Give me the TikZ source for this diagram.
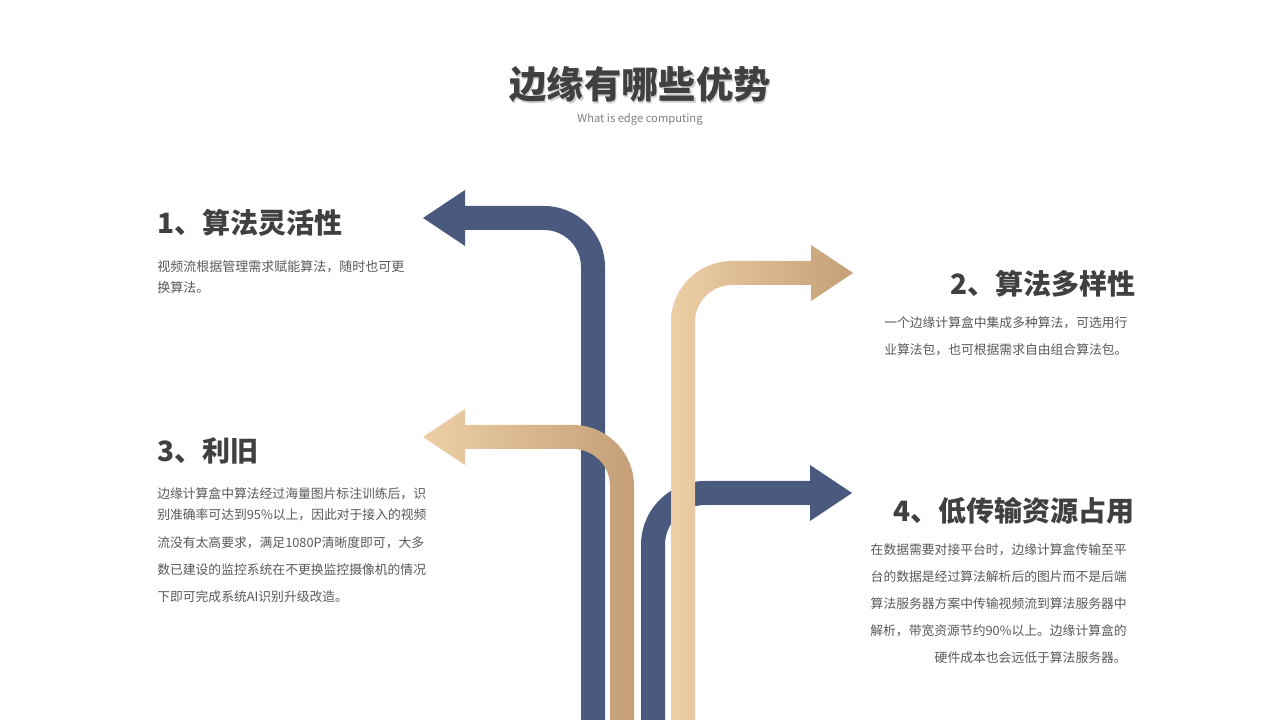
\documentclass[tikz,border=0pt]{standalone}
\usepackage{fontspec}
\setmainfont{Noto Sans CJK SC}
\usetikzlibrary{positioning}
\definecolor{pipeblue}{HTML}{4A5A7E}
\definecolor{tanlight}{HTML}{EDCFA6}
\definecolor{tandark}{HTML}{C49F78}
\definecolor{headgray}{HTML}{404040}
\definecolor{textgray}{HTML}{595959}
\tikzset{
  heading/.style={
    inner sep=0pt, text=headgray,
    font=\fontsize{21}{25}\selectfont\bfseries
  },
  body/.style={
    inner sep=0pt, text=textgray,
    font=\fontsize{9.6}{20.4}\selectfont
  },
  bluepipe/.style={
    fill=pipeblue
  },
  tanpipe/.style={
    left color=tanlight, right color=tandark
  }
}

\begin{document}
\begin{tikzpicture}[x=0.75pt, y=0.75pt]
\useasboundingbox[fill=white] (0,0) rectangle (1280,720);

\fill[bluepipe] (581,0) -- (581,453) arc[start angle=0, end angle=90, radius=37]
  -- (465,490) -- (465,474) -- (423,502) -- (465,530) -- (465,514) -- (544,514)
  arc[start angle=90, end angle=0, radius=61] -- (605,0) -- cycle;
\shade[tanpipe] (610,0) -- (610,234) arc[start angle=0, end angle=90, radius=37]
  -- (465,271) -- (465,255) -- (423,283) -- (465,311) -- (465,295) -- (573,295)
  arc[start angle=90, end angle=0, radius=61] -- (634,0) -- cycle;
\fill[bluepipe] (641,0) -- (641,175) arc[start angle=180, end angle=90, radius=64]
  -- (810,239) -- (810,255) -- (852,227) -- (810,199) -- (810,215) -- (705,215)
  arc[start angle=90, end angle=180, radius=40] -- (665,0) -- cycle;
\shade[tanpipe] (671,0) -- (671,398) arc[start angle=180, end angle=90, radius=61]
  -- (811,459) -- (811,475) -- (853,447) -- (811,419) -- (811,435) -- (732,435)
  arc[start angle=90, end angle=180, radius=37] -- (695,0) -- cycle;

\node[text=black!18, font=\fontsize{28}{34}\selectfont\bfseries] (shadow) at (641.5,633.5) {边缘有哪些优势};
\node[text=headgray, font=\fontsize{28}{34}\selectfont\bfseries] (title) at (640,635) {边缘有哪些优势};
\node[text=gray, font=\fontsize{8.4}{10}\selectfont, below=1pt of title] (subtitle) {What is edge computing};

\node[heading, anchor=west] (head1) at (157,497) {1、算法灵活性};
\node[body, anchor=north west, align=left, font=\fontsize{9.75}{15.75}\selectfont] (body1) at (157,460)
  {视频流根据管理需求赋能算法，随时也可更\\换算法。};

\node[heading, anchor=east] (head2) at (1136,436) {2、算法多样性};
\node[body, anchor=north west, align=left] (body2) at (884,404)
  {一个边缘计算盒中集成多种算法，可选用行\\业算法包，也可根据需求自由组合算法包。};

\node[heading, anchor=west] (head3) at (157,269) {3、利旧};
\node[body, anchor=north west, align=left] (body3) at (157,233)
  {边缘计算盒中算法经过海量图片标注训练后，识\\[-4pt]别准确率可达到95\%以上，因此对于接入的视频\\流没有太高要求，满足1080P清晰度即可，大多\\数已建设的监控系统在不更换监控摄像机的情况\\下即可完成系统AI识别升级改造。};

\node[heading, anchor=east] (head4) at (1135,209) {4、低传输资源占用};
\node[body, anchor=north east, align=right] (body4) at (1127,177)
  {在数据需要对接平台时，边缘计算盒传输至平\\台的数据是经过算法解析后的图片而不是后端\\算法服务器方案中传输视频流到算法服务器中\\解析，带宽资源节约90\%以上。边缘计算盒的\\硬件成本也会远低于算法服务器。};
\end{tikzpicture}
\end{document}
